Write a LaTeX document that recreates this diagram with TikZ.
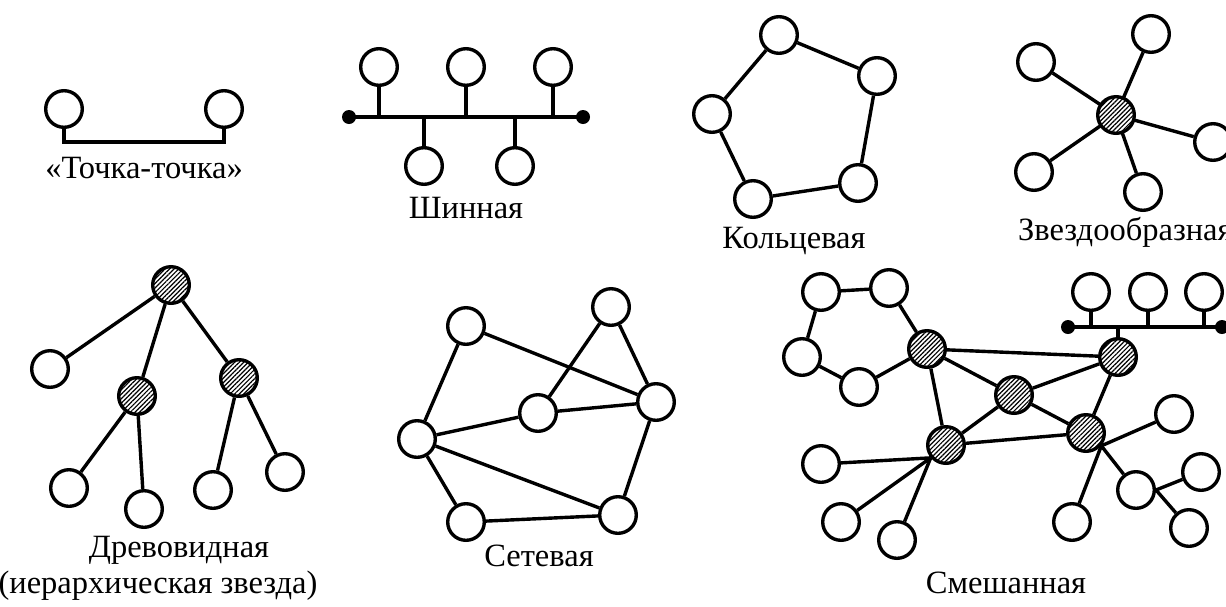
\documentclass[tikz,border=0pt]{standalone}
\usepackage{fontspec}
\setmainfont{Liberation Serif}
\usetikzlibrary{patterns.meta}
\tikzset{
  host/.style={circle, draw, line width=3.4pt, minimum size=36.6pt, inner sep=0pt, fill=white},
  hub/.style={circle, draw, line width=3.4pt, minimum size=36.6pt, inner sep=0pt,
    pattern={Lines[angle=45,distance=3.2pt,line width=1.2pt]}},
  link/.style={line width=3.4pt},
  term/.style={circle, fill=black, minimum size=14pt, inner sep=0pt},
  lab/.style={font=\fontsize{32.5}{36}\selectfont, anchor=base, inner sep=0pt},
}
\begin{document}
\begin{tikzpicture}[x=1pt,y=-1pt]
\useasboundingbox (0,0) rectangle (1226,606);
\clip (0,0) rectangle (1226,606);
% ---------- point to point
\node[host] (p1) at (64,109) {};
\node[host] (p2) at (224,109) {};
\draw[link] (p1.south) -- ++(0,13) -| (p2.south);
\node[lab] (lp) at (144,178) {«Точка-точка»};
% ---------- bus
\node[term] (bl) at (349,117) {};
\node[term] (br) at (583,117) {};
\draw[link] (bl.center) -- (br.center);
\node[host] (b1) at (379,67) {};
\node[host] (b2) at (466,67) {};
\node[host] (b3) at (553,67) {};
\node[host] (b4) at (424,166) {};
\node[host] (b5) at (515,166) {};
\foreach \n in {b1,b2,b3,b4,b5} \draw[link] (\n) -- (\n |- bl);
\node[lab] (lb) at (466,218) {Шинная};
% ---------- ring
\node[host] (ra) at (779,35) {};
\node[host] (rb) at (877,76) {};
\node[host] (rc) at (858,183) {};
\node[host] (rd) at (753,199) {};
\node[host] (re) at (712,114) {};
\draw[link] (ra) -- (rb) -- (rc) -- (rd) -- (re) -- (ra);
\node[lab] (lr) at (794,248) {Кольцевая};
% ---------- star
\node[hub] (sh) at (1116,115) {};
\node[host] (s1) at (1151,34) {};
\node[host] (s2) at (1036,62) {};
\node[host] (s3) at (1213,142) {};
\node[host] (s4) at (1034,172) {};
\node[host] (s5) at (1143,192) {};
\foreach \n in {s1,s2,s3,s4,s5} \draw[link] (sh) -- (\n);
\node[lab, anchor=base west] (ls) at (1018,240) {Звездообразная};
% ---------- tree
\node[hub] (t0) at (171,285) {};
\node[host] (t1) at (50,369) {};
\node[hub] (t2) at (137,396) {};
\node[hub] (t3) at (239,378) {};
\node[host] (t4) at (69,488) {};
\node[host] (t5) at (144,509) {};
\node[host] (t6) at (213,490) {};
\node[host] (t7) at (285,472) {};
\draw[link] (t0) -- (t1);
\draw[link] (t0) -- (t2);
\draw[link] (t0) -- (t3);
\draw[link] (t2) -- (t4);
\draw[link] (t2) -- (t5);
\draw[link] (t3) -- (t6);
\draw[link] (t3) -- (t7);
\node[lab] (lt1) at (179,557) {Древовидная};
\node[lab] (lt2) at (158,593) {(иерархическая звезда)};
% ---------- mesh
\node[host] (ma) at (466,326) {};
\node[host] (mb) at (611,307) {};
\node[host] (mc) at (538,413) {};
\node[host] (md) at (656,402) {};
\node[host] (me) at (417,439) {};
\node[host] (mf) at (466,522) {};
\node[host] (mg) at (618,515) {};
\draw[link] (ma) -- (me);
\draw[link] (ma) -- (md);
\draw[link] (mb) -- (mc);
\draw[link] (mb) -- (md);
\draw[link] (mc) -- (md);
\draw[link] (me) -- (mc);
\draw[link] (me) -- (mg);
\draw[link] (me) -- (mf);
\draw[link] (mf) -- (mg);
\draw[link] (md) -- (mg);
\node[lab] (lm) at (539,566) {Сетевая};
% ---------- mixed
\node[host] (x1) at (821,292) {};
\node[host] (x2) at (889,288) {};
\node[host] (x3) at (802,357) {};
\node[host] (x4) at (859,387) {};
\node[hub] (h1) at (927,349) {};
\node[hub] (h2) at (1014,395) {};
\node[hub] (h3) at (1118,357) {};
\node[hub] (h4) at (946,445) {};
\node[hub] (h5) at (1086,433) {};
\draw[link] (x1) -- (x2) -- (h1);
\draw[link] (x1) -- (x3) -- (x4) -- (h1);
\draw[link] (h1) -- (h3);
\draw[link] (h1) -- (h2);
\draw[link] (h1) -- (h4);
\draw[link] (h2) -- (h3);
\draw[link] (h2) -- (h4);
\draw[link] (h2) -- (h5);
\draw[link] (h3) -- (h5);
\draw[link] (h4) -- (h5);
% bus on top
\node[term] (xbl) at (1068,327) {};
\node[term] (xbr) at (1222,327) {};
\draw[link] (xbl.center) -- (xbr.center);
\node[host] (y1) at (1091,292) {};
\node[host] (y2) at (1148,292) {};
\node[host] (y3) at (1204,292) {};
\foreach \n in {y1,y2,y3} \draw[link] (\n) -- (\n |- xbl);
\draw[link] (h3) -- (h3 |- xbl);
% leaves of h4
\node[host] (z1) at (821,464) {};
\node[host] (z2) at (841,522) {};
\node[host] (z3) at (897,540) {};
\foreach \n in {z1,z2,z3} \draw[link] (h4.220) -- (\n);
% leaves of h5
\node[host] (w1) at (1174,414) {};
\node[host] (w2) at (1072,522) {};
\node[host] (ws) at (1136,490) {};
\foreach \n in {w1,w2,ws} \draw[link] (h5.-40) -- (\n);
\node[host] (v1) at (1201,472) {};
\node[host] (v2) at (1189,528) {};
\draw[link] (ws.0) -- (v1);
\draw[link] (ws.0) -- (v2);
\node[lab] (lx) at (1006,593) {Смешанная};
\end{tikzpicture}
\end{document}
